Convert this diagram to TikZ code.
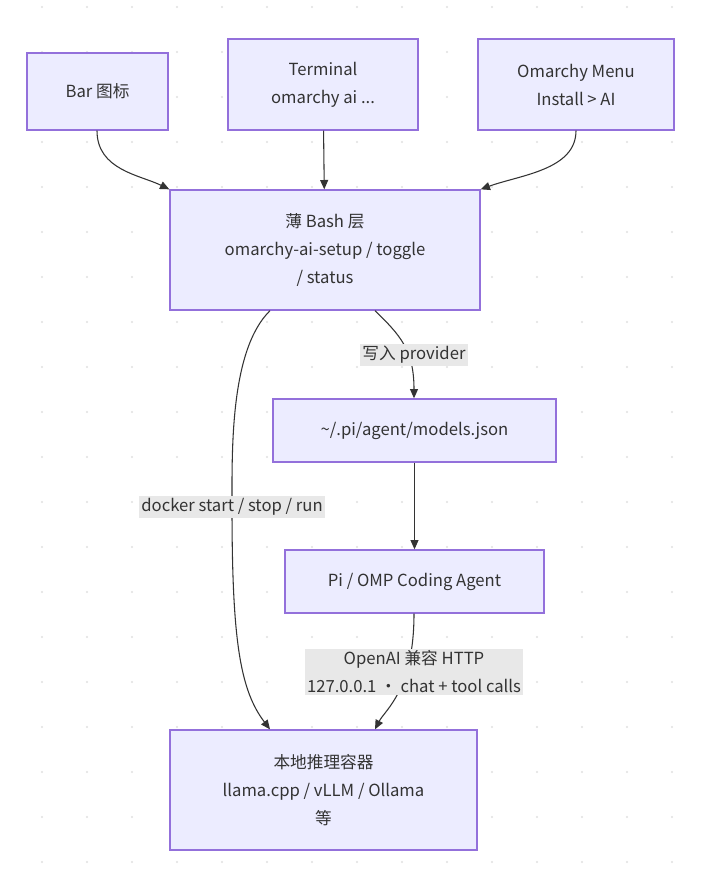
\documentclass[tikz,border=0pt]{standalone}
\usepackage{fontspec}
\setmainfont{Noto Sans CJK SC}
\usetikzlibrary{arrows.meta}
\definecolor{nfill}{HTML}{ECECFF}
\definecolor{nline}{HTML}{9370DB}
\definecolor{txt}{HTML}{333333}
\definecolor{lbl}{HTML}{E8E8E8}
\begin{document}
\begin{tikzpicture}[x=0.75pt,y=-0.75pt,
  box/.style={draw=nline,fill=nfill,line width=1pt,text=txt,align=center,font=\fontsize{12.5}{21}\selectfont,inner sep=0pt},
  edge/.style={draw=txt,line width=0.8pt,-{Triangle[length=7pt,width=6pt]}},
  elab/.style={fill=lbl,text=txt,align=center,font=\fontsize{12.5}{21}\selectfont,inner sep=1.5pt}]
\useasboundingbox (0,0) rectangle (714,881);
\fill[white] (0,0) rectangle (714,881);
\foreach \i in {0,...,15}{\foreach \j in {0,...,19}{
  \fill[black!12] ({42+45*\i},{7+45*\j}) circle (1.2);}}
\node[box,minimum width=141*0.75pt,minimum height=77*0.75pt] (bar) at (97.5,91.5) {Bar 图标};
\node[box,minimum width=190*0.75pt,minimum height=91*0.75pt] (term) at (323,84.5) {Terminal\\omarchy ai ...};
\node[box,minimum width=196*0.75pt,minimum height=91*0.75pt] (menu) at (576,84.5) {Omarchy Menu\\Install > AI};
\node[box,minimum width=310*0.75pt,minimum height=120*0.75pt] (bash) at (325,250) {薄 Bash 层\\omarchy-ai-setup / toggle\\/ status};
\node[box,minimum width=283*0.75pt,minimum height=63*0.75pt] (models) at (414.5,430.5) {\textasciitilde/.pi/agent/models.json};
\node[box,minimum width=259*0.75pt,minimum height=63*0.75pt] (pi) at (414.5,581.5) {Pi / OMP Coding Agent};
\node[box,minimum width=307*0.75pt,minimum height=120*0.75pt] (local) at (323.5,790) {本地推理容器\\llama.cpp / vLLM / Ollama\\等};
\coordinate (b1) at (97,130);
\draw[edge] (bar.south -| b1) .. controls (97,170) and (140,175) .. (bash.north west);
\draw[edge] (term) -- (bash);
\draw[edge] (menu.south -| 576,0) .. controls (576,170) and (520,175) .. (bash.north east);
\draw[edge] (bash.south -| 270,0) .. controls (230,350) and (232,450) .. (232,507) .. controls (232,640) and (240,690) .. (local.north -| 270,0);
\draw[edge] (bash.south -| 375,0) .. controls (400,335) and (414,350) .. (models.north -| 414,0);
\draw[edge] (models) -- (pi);
\draw[edge] (pi.south -| 414,0) .. controls (414,690) and (385,710) .. (local.north -| 375,0);
\node[elab] (l1) at (414,355) {写入 provider};
\node[elab] (l2) at (232,507) {docker start / stop / run};
\node[elab] (l3) at (414,672) {OpenAI 兼容 HTTP\\127.0.0.1 · chat + tool calls};
\end{tikzpicture}
\end{document}
